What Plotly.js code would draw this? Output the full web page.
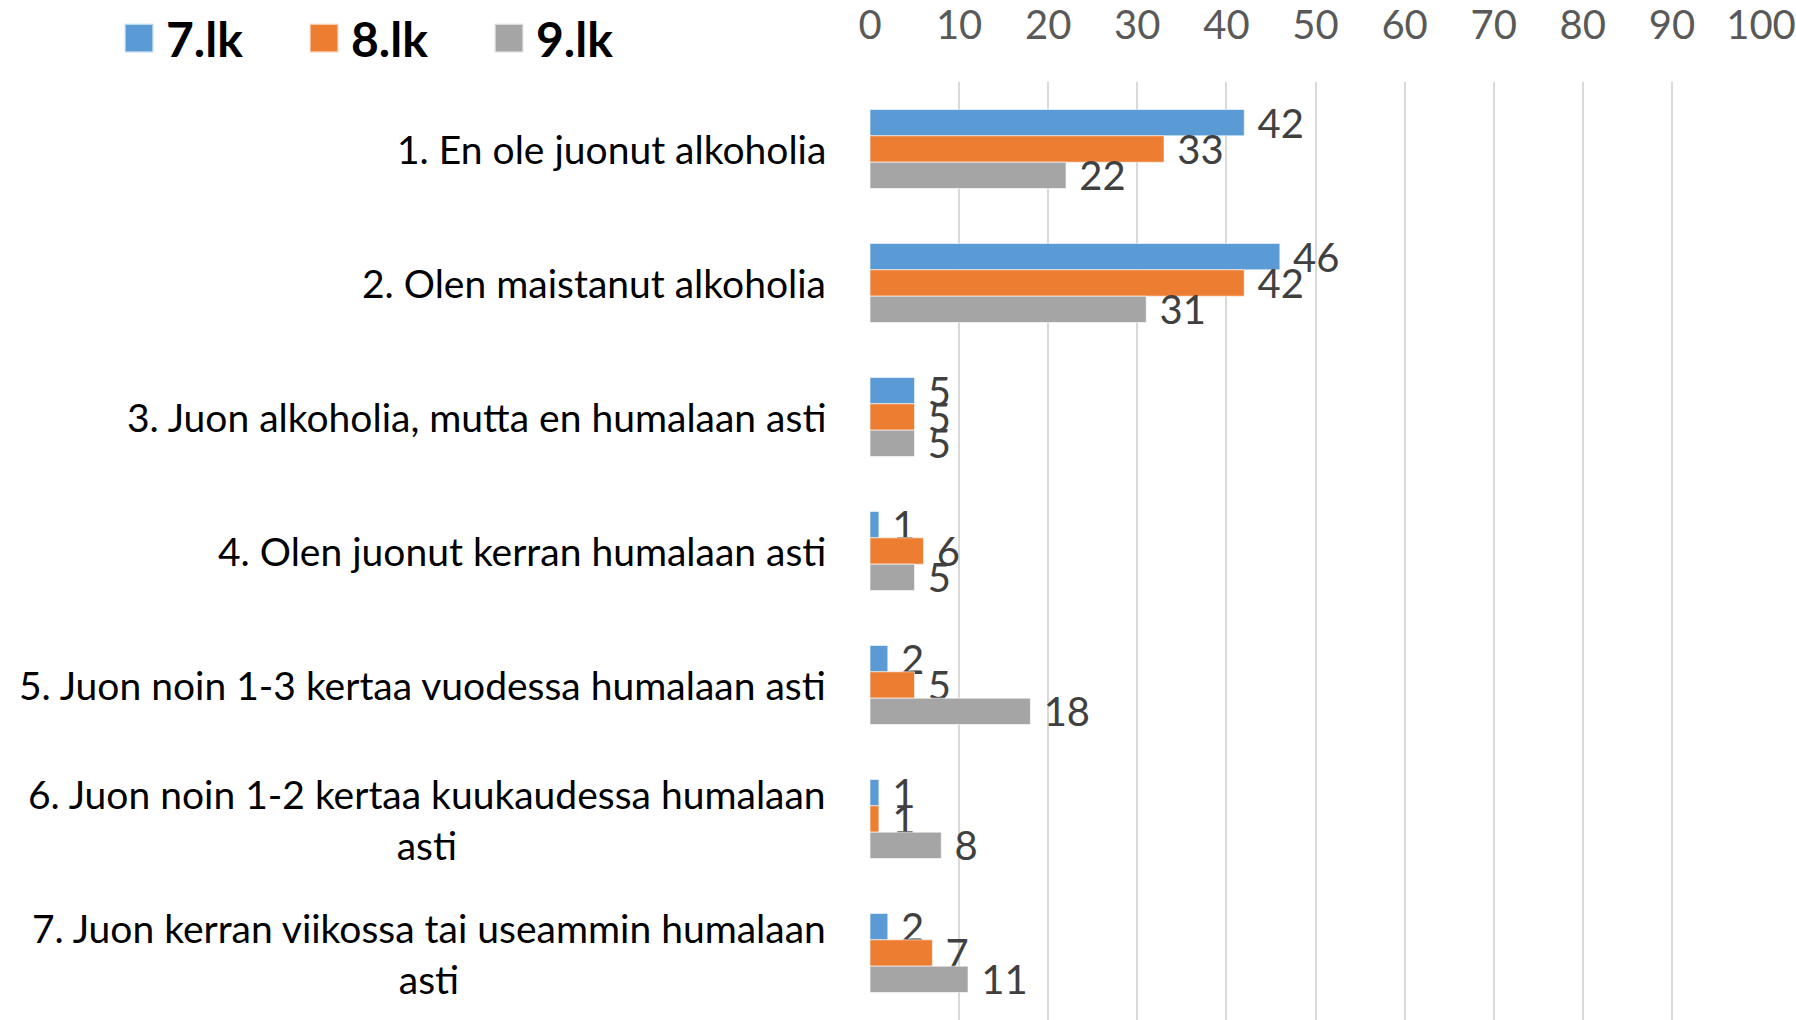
<!DOCTYPE html>
<html>
<head>
<meta charset="utf-8">
<script src="https://cdn.plot.ly/plotly-3.0.1.min.js"></script>
<style>html,body{margin:0;padding:0;background:#fff;}#chart{width:1796px;height:1020px;}</style>
</head>
<body>
<div id="chart"></div>
<script>
var categories = [
  "1. En ole juonut alkoholia",
  "2. Olen maistanut alkoholia",
  "3. Juon alkoholia, mutta en humalaan asti",
  "4. Olen juonut kerran humalaan asti",
  "5. Juon noin 1-3 kertaa vuodessa humalaan asti",
  "6. Juon noin 1-2 kertaa kuukaudessa humalaan<br>asti",
  "7. Juon kerran viikossa tai useammin humalaan<br>asti"
];
var seriesNames = ["7.lk", "8.lk", "9.lk"];
var values7 = [42, 46, 5, 1, 2, 1, 2];
var values8 = [33, 42, 5, 6, 5, 1, 7];
var values9 = [22, 31, 5, 5, 18, 8, 11];
var xTickValues = [0, 10, 20, 30, 40, 50, 60, 70, 80, 90, 100];

var colors = ["#5B9BD5", "#ED7D31", "#A5A5A5"];
var FONT = "Lato, 'Open Sans', sans-serif";
var allValues = [values7, values8, values9];

var traces = allValues.map(function (vals, i) {
  return {
    type: "bar",
    orientation: "h",
    name: seriesNames[i],
    y: categories,
    x: vals,
    marker: {color: colors[i], line: {color: "rgba(255,255,255,0.6)", width: 1}},
    text: vals.map(String),
    texttemplate: "\u00a0%{x}",
    textposition: "outside",
    constraintext: "none",
    cliponaxis: false,
    textfont: {family: FONT, size: 40, color: "#404040"},
    hoverinfo: "x+name"
  };
});

var annotations = categories.map(function (c) {
  return {
    xref: "paper", yref: "y",
    x: -0.047, y: c,
    xanchor: "right", yanchor: "middle",
    align: "center",
    text: c,
    showarrow: false,
    font: {family: FONT, size: 39, color: "#000000"}
  };
});

var layout = {
  width: 1796,
  height: 1020,
  margin: {l: 870, r: 35, t: 82, b: 0, pad: 0},
  paper_bgcolor: "#ffffff",
  plot_bgcolor: "#ffffff",
  barmode: "group",
  bargap: 0.41,
  bargroupgap: 0,
  showlegend: true,
  legend: {
    orientation: "h",
    x: -0.835, y: 1.087,
    xanchor: "left", yanchor: "top",
    font: {family: FONT, size: 48, color: "#000000", weight: "bold"},
    entrywidth: 140,
    entrywidthmode: "pixels",
    itemwidth: 30,
    traceorder: "normal"
  },
  xaxis: {
    side: "top",
    range: [0, 100],
    tickvals: xTickValues,
    ticktext: xTickValues.map(String),
    showgrid: true,
    gridcolor: "#D9D9D9",
    gridwidth: 2,
    zeroline: false,
    showline: false,
    ticks: "",
    ticklabelstandoff: 34,
    tickfont: {family: FONT, size: 40, color: "#595959"},
    fixedrange: true
  },
  yaxis: {
    type: "category",
    autorange: "reversed",
    showticklabels: false,
    showgrid: false,
    zeroline: false,
    showline: false,
    ticks: "",
    fixedrange: true
  },
  annotations: annotations,
  font: {family: FONT}
};

Plotly.newPlot("chart", traces, layout, {displayModeBar: false, staticPlot: true}).then(function () {
  document.querySelectorAll("#chart .legend [clip-path]").forEach(function (e) {
    e.removeAttribute("clip-path");
  });
  document.querySelectorAll("#chart .legend .legendpoints path").forEach(function (p) {
    p.setAttribute("transform", "translate(13,0) scale(2.4)");
  });
});
</script>
</body>
</html>
